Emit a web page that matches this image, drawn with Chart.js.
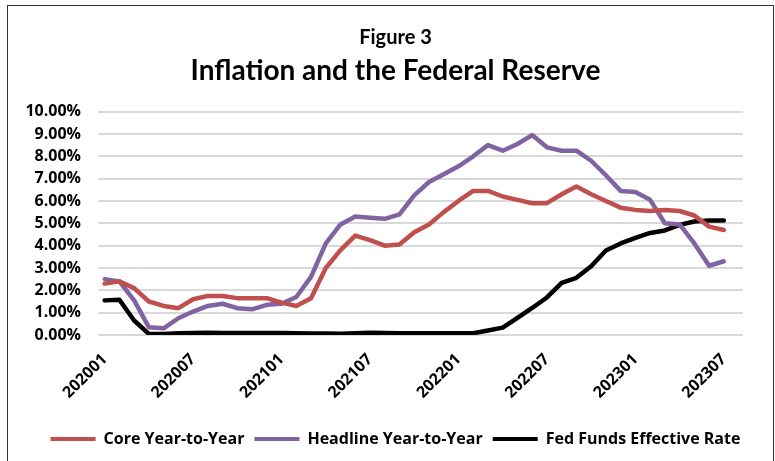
<!DOCTYPE html>
<html><head><meta charset="utf-8">
<script src="https://cdn.jsdelivr.net/npm/chart.js@4.4.1/dist/chart.umd.min.js"></script>
<style>
html,body{margin:0;padding:0;background:#fff;overflow:hidden;width:775px;height:461px}
#wrap{position:relative;width:775px;height:461px;overflow:hidden}
canvas{position:absolute;left:0;top:0}
#frame{position:absolute;left:7px;top:5px;width:765px;height:480px;border:1.5px solid #333;pointer-events:none}
</style></head><body>
<div id="wrap"><canvas id="c" width="775" height="461"></canvas><div id="frame"></div></div>
<script>
const months = ['202001','202002','202003','202004','202005','202006','202007','202008','202009','202010','202011','202012',
  '202101','202102','202103','202104','202105','202106','202107','202108','202109','202110','202111','202112',
  '202201','202202','202203','202204','202205','202206','202207','202208','202209','202210','202211','202212',
  '202301','202302','202303','202304','202305','202306','202307'];
const tickLabels = ['202001','202007','202101','202107','202201','202207','202301','202307'];
const coreYoY = [2.3,2.4,2.1,1.5,1.3,1.2, 1.6,1.75,1.75,1.65,1.65,1.65, 1.45,1.3,1.65,3.0,3.8,4.45,
  4.25,4.0,4.05,4.6,4.95,5.5, 6.0,6.45,6.45,6.2,6.05,5.9, 5.9,6.3,6.65,6.3,6.0,5.7, 5.6,5.55,5.6,5.55,5.35,4.85, 4.7];
const headlineYoY = [2.5,2.4,1.55,0.35,0.3,0.75, 1.05,1.3,1.4,1.2,1.15,1.35, 1.4,1.7,2.6,4.1,4.95,5.3,
  5.25,5.2,5.4,6.25,6.85,7.2, 7.55,8.0,8.5,8.25,8.55,8.95, 8.4,8.25,8.25,7.8,7.15,6.45, 6.4,6.05,5.0,4.95,4.1,3.1, 3.3];
const fedFunds = [1.55,1.58,0.65,0.05,0.05,0.08, 0.09,0.1,0.09,0.09,0.09,0.09, 0.09,0.08,0.07,0.07,0.06,0.08,
  0.1,0.09,0.08,0.08,0.08,0.08, 0.08,0.08,0.2,0.33,0.77,1.21, 1.68,2.33,2.56,3.08,3.78,4.1, 4.35,4.57,4.68,4.93,5.08,5.12, 5.12];
const seriesNames = ['Core Year-to-Year','Headline Year-to-Year','Fed Funds Effective Rate'];
const seriesColors = ['#C0504D','#8064A2','#000000'];
const yMin = 0, yMax = 10, yStep = 1;

const TFONT = 'Lato';
const FONT = 'Open Sans';
const pts = arr => arr.map((v,i)=>({x:i,y:v}));
const seriesData = [coreYoY, headlineYoY, fedFunds];

new Chart(document.getElementById('c'), {
  type: 'line',
  data: {
    datasets: seriesData.map((d,k)=>({
      label: seriesNames[k], data: pts(d), borderColor: seriesColors[k], backgroundColor: seriesColors[k],
      borderWidth: 4.5, pointRadius: 0, tension: 0, borderJoinStyle: 'round', borderCapStyle: 'round', yAxisID: 'y'
    }))
  },
  options: {
    responsive: false, animation: false, devicePixelRatio: 1,
    layout: { padding: { left: 16, right: 0, top: 0, bottom: 4 } },
    scales: {
      x: {
        type: 'linear', min: -0.45, max: 43.3,
        grid: { display: false }, border: { display: false },
        afterBuildTicks: s => { s.ticks = tickLabels.map(l => ({ value: months.indexOf(l) })); },
        afterFit: s => { s.height = 86; },
        ticks: {
          autoSkip: false, maxRotation: 45, minRotation: 45, padding: 7, color: '#000',
          font: { family: FONT, weight: 'bold', size: 16 },
          callback: v => months[v]
        }
      },
      y: {
        min: yMin, max: yMax,
        afterFit: s => { s.width = 82; },
        grid: { color: '#D9D9D9', lineWidth: 2, drawTicks: false },
        border: { display: false },
        ticks: { stepSize: yStep, padding: 17, color: '#000', font: { family: FONT, weight: 'bold', size: 16 },
          callback: v => v.toFixed(2) + '%' }
      },
      y2: {
        position: 'right', grid: { display: false }, border: { display: false },
        ticks: { display: false }, afterFit: s => { s.width = 32; }
      }
    },
    plugins: {
      title: { display: true, text: 'Figure 3', color: '#000', font: { family: TFONT, weight: 'bold', size: 20 },
        padding: { top: 26, bottom: 2 } },
      subtitle: { display: true, text: 'Inflation and the Federal Reserve', color: '#000',
        font: { family: TFONT, weight: 'bold', size: 28 }, padding: { top: 2, bottom: 24 } },
      legend: {
        position: 'bottom',
        labels: {
          boxWidth: 45, boxHeight: 4, padding: 10, color: '#000',
          font: { family: FONT, weight: 'bold', size: 16 },
          generateLabels: chart => chart.data.datasets.map((ds,i)=>({
            text: ds.label, fillStyle: ds.borderColor, strokeStyle: ds.borderColor, lineWidth: 0,
            hidden: false, datasetIndex: i, fontColor: '#000'
          }))
        }
      },
      tooltip: { enabled: false }
    }
  }
});
</script>
</body></html>
